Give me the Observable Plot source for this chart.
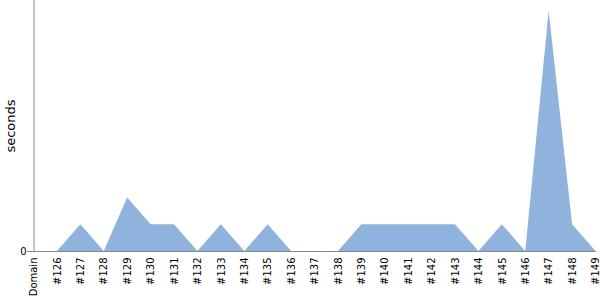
<!DOCTYPE html>
<html>
<head>
<meta charset="utf-8">
<script src="https://cdn.jsdelivr.net/npm/d3@7"></script>
<script src="https://cdn.jsdelivr.net/npm/@observablehq/plot@0.6"></script>
<style>
  html, body { margin: 0; padding: 0; background: #fff; }
  #chart svg { display: block; font-family: "DejaVu Sans", sans-serif; }
</style>
</head>
<body>
<div id="chart"></div>
<script>
const categories = ["Domain", "#126", "#127", "#128", "#129", "#130", "#131", "#132", "#133", "#134", "#135", "#136", "#137", "#138", "#139", "#140", "#141", "#142", "#143", "#144", "#145", "#146", "#147", "#148", "#149"];
const seconds = [0, 0, 1, 0, 2, 1, 1, 0, 1, 0, 1, 0, 0, 0, 1, 1, 1, 1, 1, 0, 1, 0, 9, 1, 0];
const yTicks = [0];
const yLabel = "seconds";

const data = categories.map((c, i) => ({cat: c, value: seconds[i]}));

const chart = Plot.plot({
  width: 600,
  height: 300,
  marginLeft: 33,
  marginRight: 4,
  marginTop: 0,
  marginBottom: 49,
  style: {fontFamily: "DejaVu Sans, sans-serif", fontSize: "10px", color: "#000", background: "#fff"},
  x: {type: "point", domain: categories, padding: 0, round: false, range: [33.5, 595.5]},
  y: {domain: [0, 9.4], range: [251, 0]},
  marks: [
    Plot.areaY(data, {x: "cat", y: "value", fill: "#8fb3dc", curve: "linear"}),
    Plot.ruleY([0], {stroke: "#888", strokeWidth: 1}),
    Plot.ruleX([categories[0]], {stroke: "#888", strokeWidth: 1}),
    Plot.axisX({tickRotate: -90, tickSize: 0, tickPadding: 6, label: null, fontSize: 10}),
    Plot.axisY({ticks: yTicks, tickSize: 6, tickPadding: 1, stroke: "#888", label: null, fontSize: 10}),
    Plot.text([yLabel], {frameAnchor: "left", textAnchor: "middle", dx: -23, text: d => d, rotate: -90, fontSize: 13, fill: "#000"})
  ]
});
document.getElementById("chart").appendChild(chart);
</script>
</body>
</html>
